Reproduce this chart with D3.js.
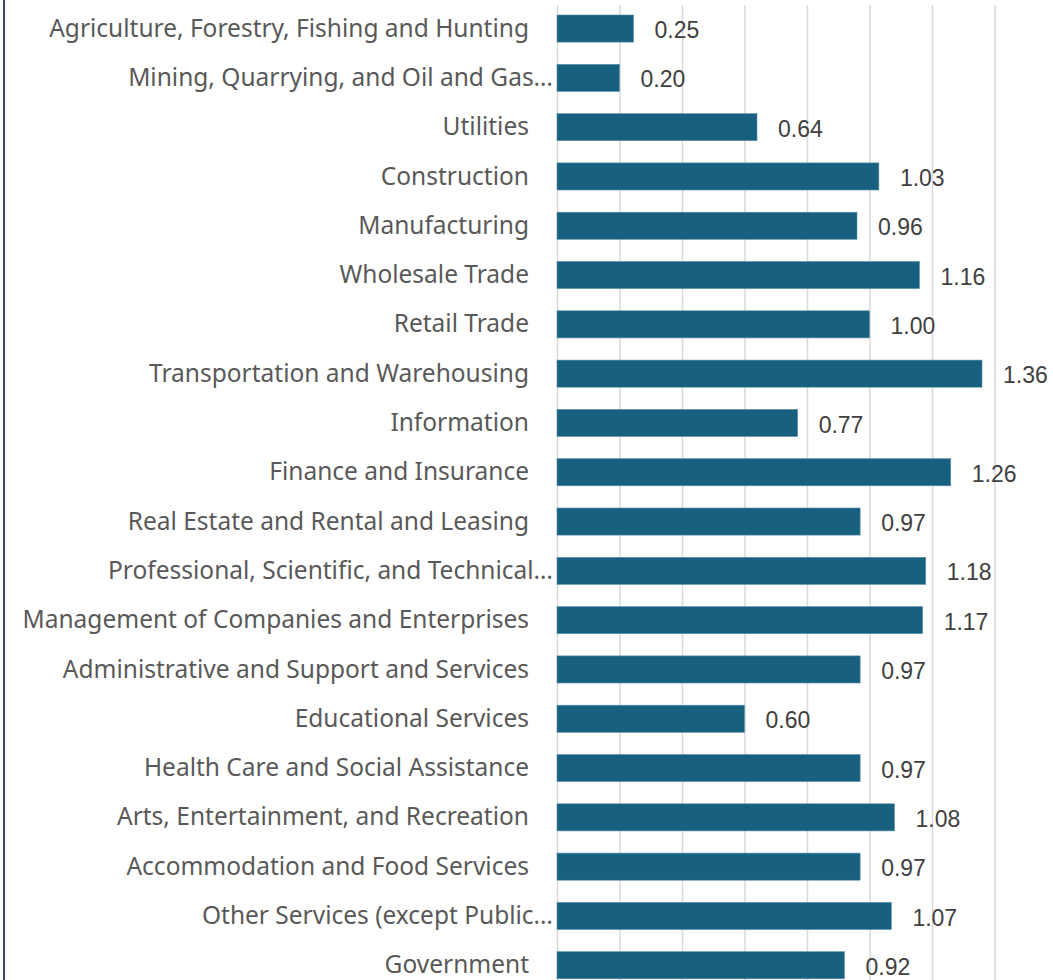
<!DOCTYPE html>
<html>
<head>
<meta charset="utf-8">
<script src="https://cdn.jsdelivr.net/npm/d3@7"></script>
<style>
  body { margin: 0; background: #fff; }
  svg { display: block; }
</style>
</head>
<body>
<div id="chart"></div>
<script>
const categories = [
    "Agriculture, Forestry, Fishing and Hunting",
    "Mining, Quarrying, and Oil and Gas…",
    "Utilities",
    "Construction",
    "Manufacturing",
    "Wholesale Trade",
    "Retail Trade",
    "Transportation and Warehousing",
    "Information",
    "Finance and Insurance",
    "Real Estate and Rental and Leasing",
    "Professional, Scientific, and Technical…",
    "Management of Companies and Enterprises",
    "Administrative and Support and Services",
    "Educational Services",
    "Health Care and Social Assistance",
    "Arts, Entertainment, and Recreation",
    "Accommodation and Food Services",
    "Other Services (except Public…",
    "Government"
];
const values = [0.245, 0.20, 0.64, 1.03, 0.96, 1.16, 1.00, 1.36, 0.77, 1.26,
    0.97, 1.18, 1.17, 0.97, 0.60, 0.97, 1.08, 0.97, 1.07, 0.92];
const labels = ["0.25", "0.20", "0.64", "1.03", "0.96", "1.16", "1.00", "1.36", "0.77", "1.26",
    "0.97", "1.18", "1.17", "0.97", "0.60", "0.97", "1.08", "0.97", "1.07", "0.92"];
const gridTicks = [0, 0.2, 0.4, 0.6, 0.8, 1.0, 1.2, 1.4, 1.6];

const width = 1053, height = 980;
const data = categories.map((c, i) => ({ name: c, value: values[i], label: labels[i] }));

const svg = d3.select("#chart").append("svg")
    .attr("width", width)
    .attr("height", height);

const x = d3.scaleLinear()
    .domain([0, 1.6])
    .range([557, 1057]);

const y = d3.scaleBand()
    .domain(categories)
    .range([3.9, 989.9])
    .paddingInner(0.45)
    .paddingOuter(0.225);

// left frame line
svg.append("line")
    .attr("x1", 4).attr("x2", 4)
    .attr("y1", 0).attr("y2", height)
    .attr("stroke", "#3b4a6b")
    .attr("stroke-width", 2);

// vertical gridlines
svg.append("g")
    .attr("transform", "translate(0,5)")
    .call(d3.axisBottom(x).tickValues(gridTicks).tickSize(height).tickFormat(""))
    .call(g => g.select(".domain").remove())
    .call(g => g.selectAll(".tick line").attr("stroke", "#d9d9d9").attr("stroke-width", 1.5));

svg.selectAll("rect.bar")
    .data(data)
    .enter()
    .append("rect")
    .attr("class", "bar")
    .attr("x", x(0))
    .attr("y", d => y(d.name))
    .attr("width", d => x(d.value) - x(0))
    .attr("height", y.bandwidth())
    .attr("fill", "#17607f")
    .attr("stroke", "#5d92ab")
    .attr("stroke-width", 0.6);

svg.selectAll("text.cat")
    .data(data)
    .enter()
    .append("text")
    .attr("class", "cat")
    .attr("x", d => d.name.endsWith("…") ? 553 : 529)
    .attr("y", d => y(d.name) + y.bandwidth() / 2)
    .attr("dy", "0.33em")
    .attr("text-anchor", "end")
    .style("font-family", "'Noto Sans', sans-serif")
    .style("font-size", "24.5px")
    .style("fill", "#595959")
    .text(d => d.name);

svg.selectAll("text.val")
    .data(data)
    .enter()
    .append("text")
    .attr("class", "val")
    .attr("x", d => x(d.value) + 21)
    .attr("y", d => y(d.name) + y.bandwidth() / 2 + 1.5)
    .attr("dy", "0.35em")
    .style("font-family", "'Liberation Sans', Arial, sans-serif")
    .style("font-size", "23px")
    .style("fill", "#404040")
    .text(d => d.label);
</script>
</body>
</html>
